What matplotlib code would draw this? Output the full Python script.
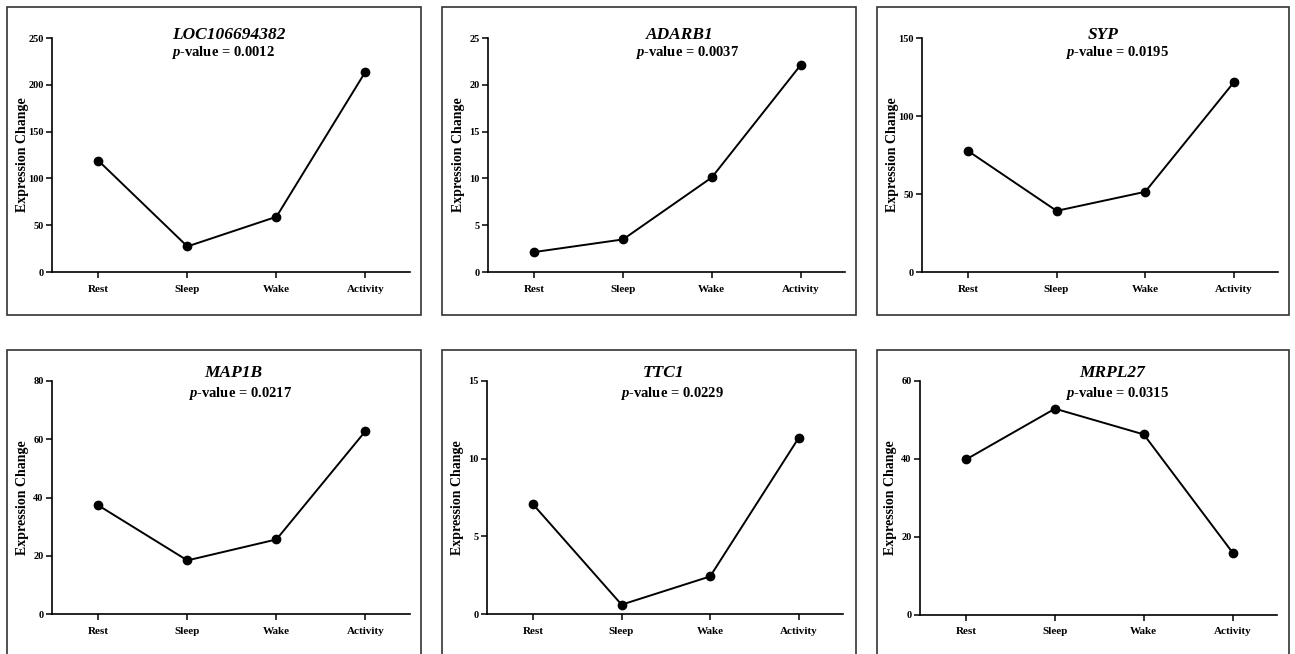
import matplotlib
matplotlib.use("Agg")
import matplotlib.pyplot as plt
from matplotlib.patches import Rectangle

categories = ["Rest", "Sleep", "Wake", "Activity"]
genes = ["LOC106694382", "ADARB1", "SYP", "MAP1B", "TTC1", "MRPL27"]
pvalues = ["0.0012", "0.0037", "0.0195", "0.0217", "0.0229", "0.0315"]
loc106694382 = [119, 27.3, 59, 214]
adarb1 = [2.13, 3.48, 10.1, 22.1]
syp = [77.6, 39.2, 51.4, 121.5]
map1b = [37.3, 18.4, 25.6, 62.8]
ttc1 = [7.06, 0.6, 2.42, 11.34]
mrpl27 = [39.9, 52.9, 46.3, 16.0]
series = [loc106694382, adarb1, syp, map1b, ttc1, mrpl27]
ymax = [250, 25, 150, 80, 15, 60]
ystep = [50, 5, 50, 20, 5, 20]

W, H = 1295, 654
plt.rcParams['font.family'] = ['Liberation Serif', 'DejaVu Serif']
plt.rcParams['mathtext.fontset'] = 'custom'
plt.rcParams['mathtext.rm'] = 'Liberation Serif:bold'
plt.rcParams['mathtext.it'] = 'Liberation Serif:italic:bold'
plt.rcParams['mathtext.bf'] = 'Liberation Serif:bold'
plt.rcParams['mathtext.bfit'] = 'Liberation Serif:italic:bold'
fig = plt.figure(figsize=(W / 100, H / 100), dpi=100)

# axes boxes in pixels: (left, top, right, bottom)
axes_px = [(52, 38, 410, 272), (488, 38, 845, 272), (922, 38, 1278, 272),
           (52, 381, 410, 614), (487, 381, 843, 614), (920, 381, 1277, 615)]
frame_px = [(7, 7, 421, 315), (442, 7, 856, 315), (877, 7, 1289, 315),
            (7, 350, 421, 662), (442, 350, 856, 662), (877, 350, 1289, 662)]
gene_x = [0.494, 0.538, 0.508, 0.506, 0.497, 0.538]
pval_x = [0.478, 0.557, 0.548, 0.525, 0.52, 0.552]
gene_y = [1.013, 1.013, 1.013, 1.034, 1.034, 1.034]
pval_y = [0.936, 0.936, 0.936, 0.948, 0.948, 0.948]

for (l, t, r, b) in frame_px:
    fig.patches.append(Rectangle((l / W, 1 - b / H), (r - l) / W, (b - t) / H,
                                 transform=fig.transFigure, fill=False,
                                 edgecolor='#333333', linewidth=1.2, clip_on=False))

for i in range(6):
    l, t, r, b = axes_px[i]
    ax = fig.add_axes([l / W, 1 - b / H, (r - l) / W, (b - t) / H])
    x = list(range(len(categories)))
    ax.plot(x, series[i], color='black', linewidth=1.4, marker='o', markersize=6)
    ax.set_xlim(-0.52, 3.5)
    ax.set_ylim(0, ymax[i])
    ax.set_yticks(list(range(0, ymax[i] + 1, ystep[i])))
    ax.set_xticks(x)
    ax.set_xticklabels(categories)
    for s in ['top', 'right']:
        ax.spines[s].set_visible(False)
    for s in ['left', 'bottom']:
        ax.spines[s].set_linewidth(1.2)
    ax.tick_params(axis='both', direction='out', length=4, width=1.1, labelsize=7.5, pad=2)
    ax.tick_params(axis='x', pad=5, labelsize=8)
    for lab in ax.get_xticklabels() + ax.get_yticklabels():
        lab.set_fontweight('bold')
    ax.set_ylabel("Expression Change", fontsize=10, fontweight='bold')
    ax.yaxis.set_label_coords(-0.064, 0.5)
    ax.text(gene_x[i], gene_y[i], genes[i], transform=ax.transAxes, ha='center', va='center',
            fontsize=12.5, fontweight='bold', fontstyle='italic')
    ax.text(pval_x[i], pval_y[i], r"$p$-value = " + pvalues[i], transform=ax.transAxes,
            ha='center', va='center', fontsize=10.5, fontweight='bold')

fig.savefig("out.png", dpi=100, facecolor='white')
